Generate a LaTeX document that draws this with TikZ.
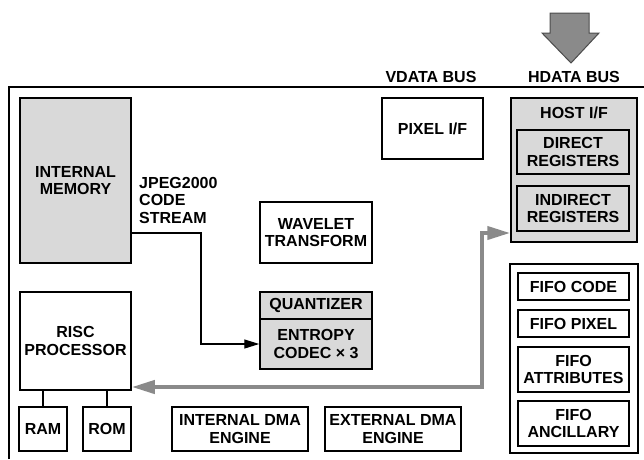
\documentclass[tikz,border=0pt]{standalone}
\usepackage{fontspec}
\setmainfont{Liberation Sans}
\usetikzlibrary{arrows.meta}
\definecolor{boxgray}{gray}{0.85}
\definecolor{busgray}{gray}{0.54}

\begin{document}
\begin{tikzpicture}[
        x=1pt, y=-1pt,
        every node/.style={font=\fontsize{16}{17.5}\selectfont\bfseries},
        block/.style={rectangle, draw, line width=1.5pt,
            align=center, text centered, inner sep=0pt},
        grayblock/.style={block, fill=boxgray},
        wire/.style={line width=1.3pt},
        arrow/.style={-{Triangle[length=15pt,width=9pt]}, line width=1.3pt},
        bus/.style={{Triangle[length=23pt,width=13pt]}-{Triangle[length=23pt,width=13pt]},
            line width=4pt, draw=busgray},
        label/.style={align=left, inner sep=0pt}
      ]
      \useasboundingbox (0,0) rectangle (644,459);
      % chip outline
      \draw[line width=2pt] (9,459) -- (9,87) -- (644,87);
      % host data arrow
      \draw[fill=busgray, draw=black!70, line width=1pt] (550,13) -- (589,13) -- (589,33)
        -- (599,33) -- (571,63) -- (542,33) -- (550,33) -- cycle;
      \node (vbus) at (431,77) {VDATA BUS};
      \node (hbus) at (574,77) {HDATA BUS};
      % blocks
      \node[grayblock, minimum width=111pt, minimum height=165pt]
      (mem) at (75.5,180.5) {INTERNAL\\MEMORY};
      \node[label, anchor=west] (jpeg) at (139,200) {JPEG2000\\CODE\\STREAM};
      \node[block, minimum width=112pt, minimum height=61pt]
      (wave) at (316,232.5) {WAVELET\\TRANSFORM};
      \node[block, minimum width=101pt, minimum height=61pt]
      (pixel) at (432.5,128.5) {PIXEL I/F};
      \node[grayblock, minimum width=126pt, minimum height=144pt]
      (host) at (574,170) {};
      \node (hostlbl) at (574,113) {HOST I/F};
      \node[grayblock, minimum width=112pt, minimum height=44pt]
      (direct) at (573,152) {DIRECT\\REGISTERS};
      \node[grayblock, minimum width=112pt, minimum height=45pt]
      (indirect) at (573,208.5) {INDIRECT\\REGISTERS};
      \node[grayblock, minimum width=112pt, minimum height=27pt]
      (quant) at (316,305.5) {QUANTIZER};
      \node[grayblock, minimum width=112pt, minimum height=50pt]
      (entropy) at (316,344) {ENTROPY\\CODEC × 3};
      \node[block, minimum width=111pt, minimum height=98pt]
      (risc) at (75.5,341) {RISC\\PROCESSOR};
      \node[block, minimum width=48pt, minimum height=44pt]
      (ram) at (43,429) {RAM};
      \node[block, minimum width=48pt, minimum height=44pt]
      (rom) at (107,429) {ROM};
      \node[block, minimum width=136pt, minimum height=44pt]
      (idma) at (240,429) {INTERNAL DMA\\ENGINE};
      \node[block, minimum width=136pt, minimum height=44pt]
      (edma) at (393,429) {EXTERNAL DMA\\ENGINE};
      \node[block, minimum width=128pt, minimum height=189pt]
      (fifo) at (574,358.5) {};
      \node[block, minimum width=111pt, minimum height=27pt]
      (fcode) at (573.5,286.5) {FIFO CODE};
      \node[block, minimum width=111pt, minimum height=27pt]
      (fpixel) at (573.5,323.5) {FIFO PIXEL};
      \node[block, minimum width=111pt, minimum height=45pt]
      (fattr) at (573.5,369.5) {FIFO\\ATTRIBUTES};
      \node[block, minimum width=111pt, minimum height=45pt]
      (fanc) at (573.5,423.5) {FIFO\\ANCILLARY};
      % connections
      \coordinate (bend) at (201,233);
      \draw[arrow] (bend -| mem.east) -- (bend) |- (entropy.west);
      \coordinate (busT) at (482,233);
      \coordinate (busB) at (482,387);
      \draw[bus] (busT -| host.west) -- (busT) -- (busB) -- (busB -| risc.east);
      \draw[wire] (ram.north) -- (ram.north |- risc.south);
      \draw[wire] (rom.north) -- (rom.north |- risc.south);
    \end{tikzpicture}
\end{document}
